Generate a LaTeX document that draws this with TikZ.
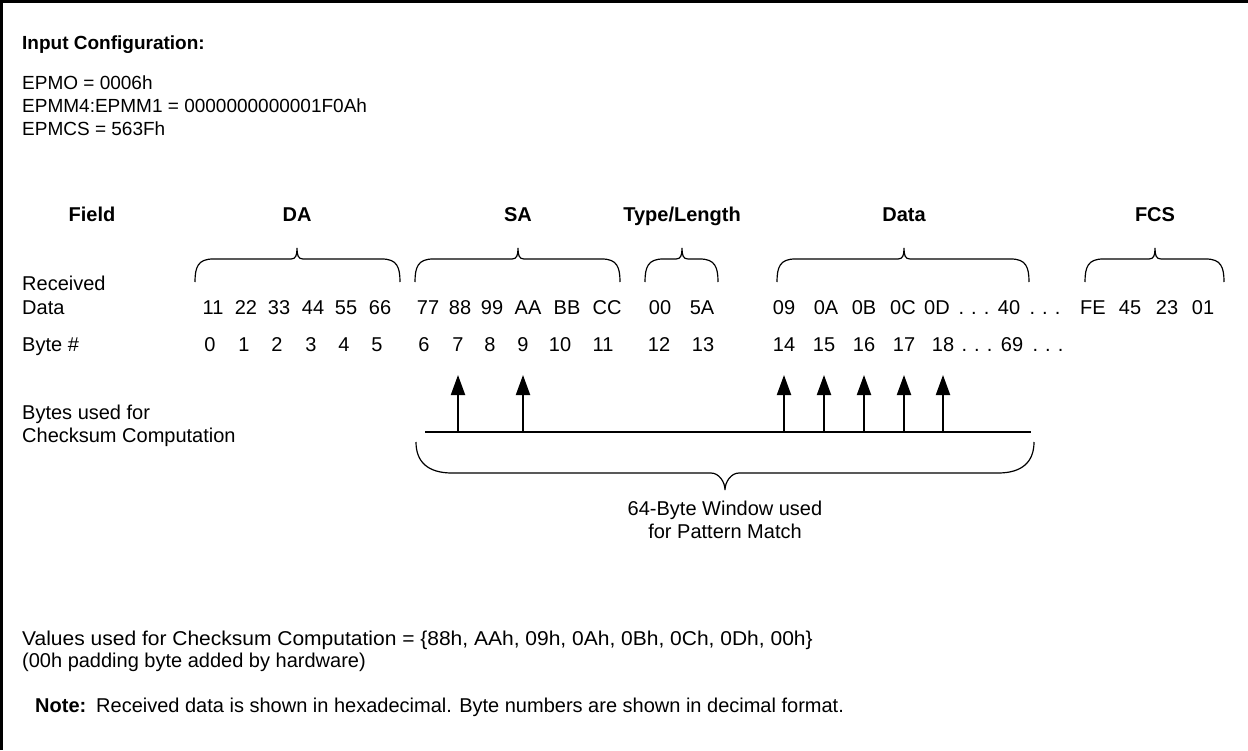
\documentclass[tikz,border=0pt]{standalone}
\usepackage{fontspec}
\setmainfont{Liberation Sans}
\usetikzlibrary{arrows.meta}
\newcommand\topbr[3]{%
  \draw[bracestyle] (#1,282) .. controls (#1,267) and ({#1+3},259) .. ({#1+18},259)
    -- ({#2-6},259) .. controls ({#2-1},259) and (#2,255) .. (#2,248)
    .. controls (#2,255) and ({#2+1},259) .. ({#2+6},259)
    -- ({#3-18},259) .. controls ({#3-3},259) and (#3,267) .. (#3,282);}
\newcommand\mydots{.\hspace{7pt}.\hspace{7pt}.}
\begin{document}
\begin{tikzpicture}[x=1pt,y=-1pt,
  txt/.style={anchor=base west, inner sep=0pt, font=\fontsize{20}{24}\selectfont},
  toptxt/.style={anchor=base west, inner sep=0pt, font=\fontsize{19}{23}\selectfont},
  ctr/.style={anchor=base, inner sep=0pt, font=\fontsize{20}{24}\selectfont},
  hdr/.style={anchor=base, inner sep=0pt, font=\fontsize{20}{24}\selectfont\bfseries},
  bracestyle/.style={line width=1.2pt},
  uparrow/.style={line width=2pt, -{Triangle[length=20pt,width=14pt]}}]
\useasboundingbox (0,0) rectangle (1248,750);
% frame
\draw[line width=2.5pt] (1.5,750) -- (1.5,1.5) -- (1248,1.5);

% configuration
\node[toptxt] (title) at (22,49) {\bfseries Input Configuration:};
\node[toptxt] (epmo) at (22,89) {EPMO = 0006h};
\node[toptxt] (epmm) at (22,112) {EPMM4:EPMM1 = 0000000000001F0Ah};
\node[toptxt] (epmcs) at (22,135) {EPMCS = 563Fh};

% headers
\node[hdr] (hfield) at (92,221) {Field};
\node[hdr] (hda) at (297,221) {DA};
\node[hdr] (hsa) at (518,221) {SA};
\node[hdr] (htl) at (682,221) {Type/Length};
\node[hdr] (hdata) at (904,221) {Data};
\node[hdr] (hfcs) at (1155,221) {FCS};

% braces over fields
\topbr{195}{297}{400}
\topbr{415}{518}{620}
\topbr{645}{682}{718}
\topbr{777}{904}{1029}
\topbr{1085}{1155}{1224}

% row labels
\node[txt] (lrec) at (22,290) {Received};
\node[txt] (ldata) at (22,314) {Data};
\node[txt] (lbyte) at (22,351) {Byte \#};

% received data
\foreach \t/\x in {11/213,22/246,33/279,44/313,55/346,66/380,
                   77/428,88/460,99/492,AA/528,BB/567,CC/607,
                   00/660,5A/702,
                   09/784,0A/826,0B/864,0C/903,0D/937,40/1009,
                   FE/1093,45/1130,23/1167,01/1203}
  \node[ctr] (d\t) at (\x,314) {\t};
\node[ctr] (ddots1) at (974,314) {\mydots};
\node[ctr] (ddots2) at (1045,314) {\mydots};

% byte numbers
\foreach \t/\x in {0/210,1/244,2/277,3/311,4/344,5/377,
                   6/424,7/458,8/490,9/523,10/560,11/603,
                   12/659,13/703,
                   14/784,15/824,16/864,17/904,18/943,69/1012}
  \node[ctr] (b\t) at (\x,351) {\t};
\node[ctr] (bdots1) at (977,351) {\mydots};
\node[ctr] (bdots2) at (1048,351) {\mydots};

% checksum bytes
\node[txt] (lused1) at (22,419) {Bytes used for};
\node[txt] (lused2) at (22,442) {Checksum Computation};
\coordinate (lw) at (425,432);
\coordinate (le) at (1031,432);
\draw[line width=2pt] (lw) -- (le);
\foreach \b in {7,9,14,15,16,17,18}
  \draw[uparrow] (b\b.base |- lw) -- ++(0,-57);

% 64-byte window brace
\draw[bracestyle] (416,442) .. controls (416,462) and (428,473) .. (452,473)
  -- (711,473) .. controls (719,473) and (725,482) .. (725,490)
  .. controls (725,482) and (731,473) .. (739,473)
  -- (998,473) .. controls (1022,473) and (1034,462) .. (1034,442);
\node[ctr] (win1) at (725,515) {64-Byte Window used};
\node[ctr] (win2) at (725,538) {for Pattern Match};

% values
\node[txt] (vals) at (22,645) {\scalebox{1.05}[1]{Values used for Checksum Computation = \{88h, AAh, 09h, 0Ah, 0Bh, 0Ch, 0Dh, 00h\}}};
\node[txt] (pad) at (22,667) {(00h padding byte added by hardware)};

% note
\node[txt] (note) at (35,712) {\bfseries Note:};
\node[txt] (notetxt) at (96,712) {Received data is shown in hexadecimal. Byte numbers are shown in decimal format.};
\end{tikzpicture}
\end{document}
